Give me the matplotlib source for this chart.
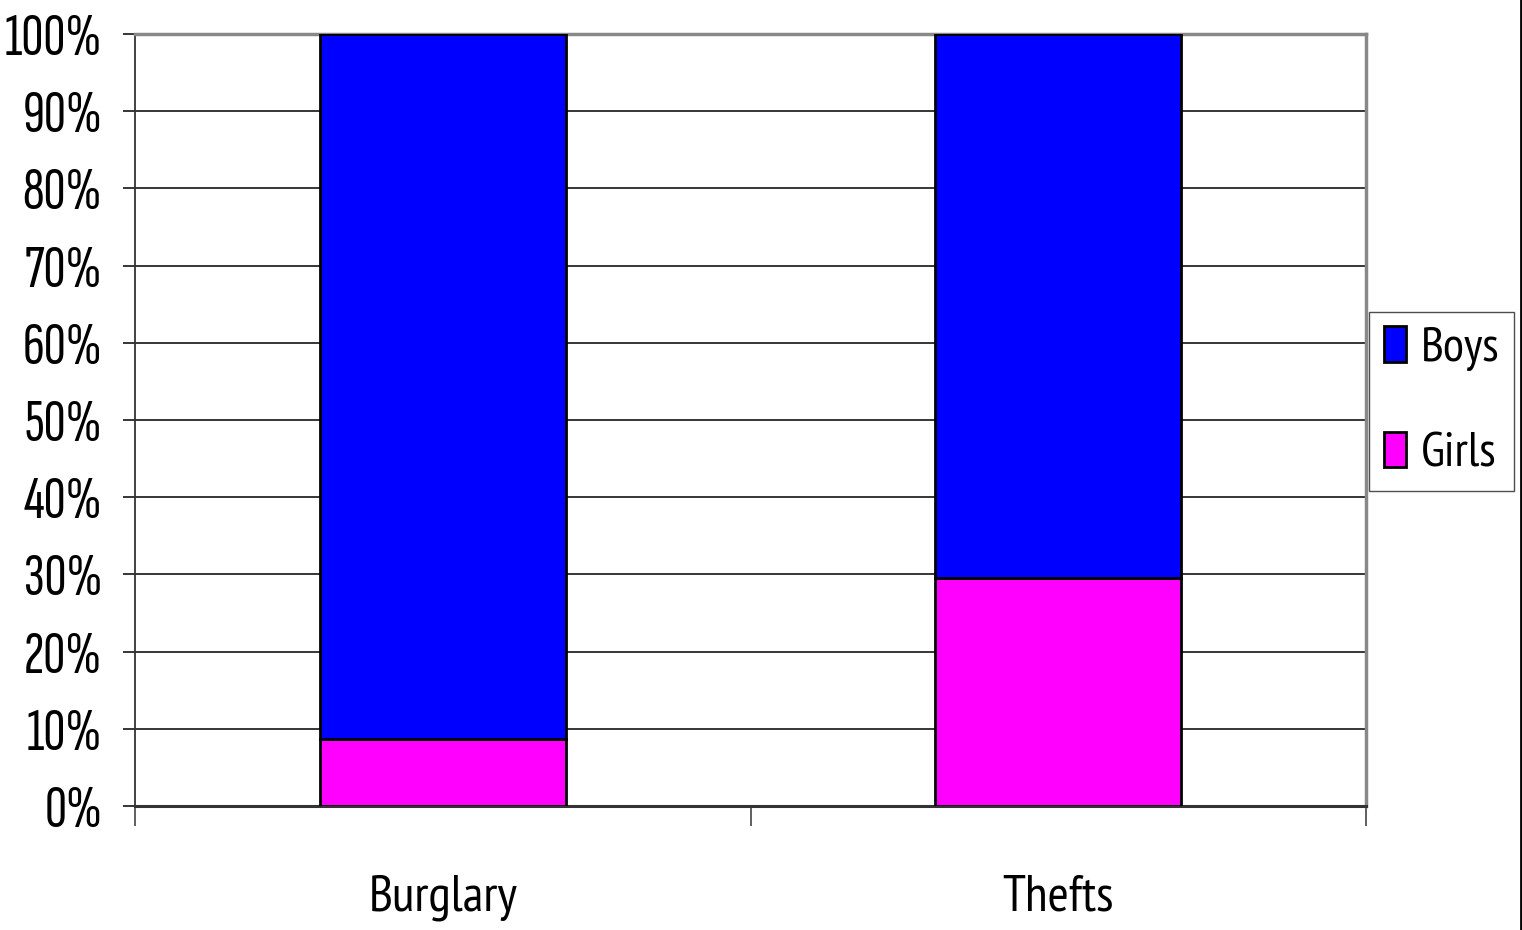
import matplotlib
matplotlib.use("Agg")
import matplotlib.pyplot as plt
import numpy as np
from matplotlib.patches import Patch

tick_font = ["Sofia Sans Extra Condensed", "Liberation Sans", "DejaVu Sans"]
label_font = ["PT Sans Narrow", "Liberation Sans", "DejaVu Sans"]

categories = ["Burglary", "Thefts"]
girls = [8.7, 29.5]
boys = [91.3, 70.5]
y_ticks = [0, 10, 20, 30, 40, 50, 60, 70, 80, 90, 100]

fig = plt.figure(figsize=(15.22, 9.30), dpi=100)
ax = fig.add_axes([135/1522, 1 - 806/930, (1366-135)/1522, (806-34)/930])

x = np.arange(len(categories))
ax.bar(x, girls, width=0.40, color="#ff00ff", edgecolor="black", linewidth=2, zorder=3)
ax.bar(x, boys, width=0.40, bottom=girls, color="#0000ff", edgecolor="black", linewidth=2, zorder=3)

ax.set_xlim(-0.5, 1.5)
ax.set_ylim(0, 100)
ax.set_yticks(y_ticks)
ax.set_yticklabels([f"{v}%" for v in y_ticks], fontsize=44, family=tick_font)
ax.yaxis.grid(True, color="black", linewidth=1.1, zorder=0)
ax.tick_params(axis="y", length=8.6, width=1.1, pad=15)

# ticks on category boundaries, names at centers
ax.set_xticks([-0.5, 0.5, 1.5])
ax.set_xticklabels([])
ax.tick_params(axis="x", which="major", length=14.4, width=1.2, color="#444444")
ax.set_xticks(x, minor=True)
ax.set_xticklabels(categories, minor=True, fontsize=37, family=label_font)
ax.tick_params(axis="x", which="minor", length=0, pad=49)

for s in ["top", "right"]:
    ax.spines[s].set_color("#888888")
    ax.spines[s].set_linewidth(2.5)
ax.spines["left"].set_color("#333333")
ax.spines["left"].set_linewidth(1.3)
ax.spines["bottom"].set_color("#333333")
ax.spines["bottom"].set_linewidth(2.2)

handles = [Patch(facecolor="#0000ff", edgecolor="black", linewidth=2, label="Boys"),
           Patch(facecolor="#ff00ff", edgecolor="black", linewidth=2, label="Girls")]
leg = fig.legend(handles=handles, loc="center", bbox_to_anchor=(1441.5/1522, 1 - 401.5/930),
                 prop={"family": label_font, "size": 35}, frameon=True, fancybox=False,
                 edgecolor="#222222", handlelength=0.45, handleheight=0.75, handletextpad=0.3,
                 labelspacing=1.25, borderpad=0.3, borderaxespad=0)
leg.get_frame().set_linewidth(1.0)

fig.add_artist(plt.Line2D([1520.5/1522, 1520.5/1522], [0, 1], color="black", linewidth=2,
                          transform=fig.transFigure))

fig.savefig("out.png", dpi=100)
